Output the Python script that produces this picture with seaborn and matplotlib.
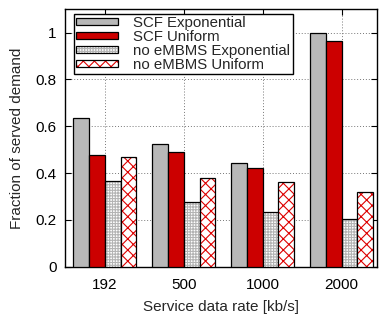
import matplotlib
matplotlib.use("Agg")
import matplotlib.pyplot as plt
import matplotlib.colors as mcolors
from matplotlib.patches import Patch
import pandas as pd
import seaborn as sns

rates = ["192", "500", "1000", "2000"]
series = ["SCF Exponential", "SCF Uniform", "no eMBMS Exponential", "no eMBMS Uniform"]
scf_exp = [0.636, 0.526, 0.443, 1.0]
scf_uni = [0.476, 0.491, 0.421, 0.965]
noe_exp = [0.367, 0.276, 0.233, 0.203]
noe_uni = [0.470, 0.379, 0.362, 0.317]

face = ["#b8b8b8", "#cc0000", "white", "white"]
hatch = [None, None, "++++++", "xxx"]
hatch_col = [None, None, "#b4b4b4", "#dd0000"]

rows = []
for name, vals in zip(series, [scf_exp, scf_uni, noe_exp, noe_uni]):
    for r, v in zip(rates, vals):
        rows.append({"rate": r, "frac": v, "scheme": name})
df = pd.DataFrame(rows)

sns.set_style("white")
plt.rcParams["font.family"] = ["Liberation Sans", "DejaVu Sans"]
plt.rcParams["hatch.linewidth"] = 0.8

fig = plt.figure(figsize=(3.79, 3.16), dpi=100)
ax = fig.add_axes([0.1715, 0.156, 0.8235, 0.815])

sns.barplot(data=df, x="rate", y="frac", hue="scheme", hue_order=series,
            order=rates, width=0.8, gap=0, ax=ax, legend=False, zorder=3)

for i, cont in enumerate(ax.containers):
    for bar in cont:
        bar.set_facecolor(face[i])
        bar.set_edgecolor("black")
        bar.set_linewidth(0.9)
        if hatch[i]:
            bar.set_hatch(hatch[i])
            bar._hatch_color = mcolors.to_rgba(hatch_col[i])

ax.set_xlim(-0.505, 3.45)
ax.set_ylim(0, 1.1)
ax.set_yticks([0, 0.2, 0.4, 0.6, 0.8, 1.0])
ax.set_yticklabels(["0", "0.2", "0.4", "0.6", "0.8", "1"])
ax.grid(True, color="#777777", linestyle=(0, (1, 2)), linewidth=0.7, zorder=0)
ax.set_axisbelow(True)
for s in ax.spines.values():
    s.set_color("black")
    s.set_linewidth(1.0)
ax.tick_params(direction="in", length=4, width=0.8, labelsize=11, colors="black",
               left=True, bottom=False, right=True, top=True)
ax.tick_params(axis="x", pad=8)
ax.tick_params(axis="y", pad=6)
ax.set_xlabel("Service data rate [kb/s]", fontsize=11, labelpad=6)
ax.set_ylabel("Fraction of served demand", fontsize=11, labelpad=8)

handles = []
for i, name in enumerate(series):
    p = Patch(facecolor=face[i], edgecolor="black", linewidth=0.9,
              hatch=hatch[i], label=name)
    if hatch[i]:
        p._hatch_color = mcolors.to_rgba(hatch_col[i])
    handles.append(p)
leg = ax.legend(handles=handles, loc="upper left", bbox_to_anchor=(0.029, 0.982),
                fontsize=10.8, frameon=True, fancybox=False, framealpha=1,
                edgecolor="black", handlelength=2.8, handleheight=0.4,
                labelspacing=0.0, borderpad=0.15, handletextpad=1.0,
                borderaxespad=0)
leg.get_frame().set_linewidth(1.0)
leg.set_zorder(5)

fig.savefig("out.png", dpi=100)
